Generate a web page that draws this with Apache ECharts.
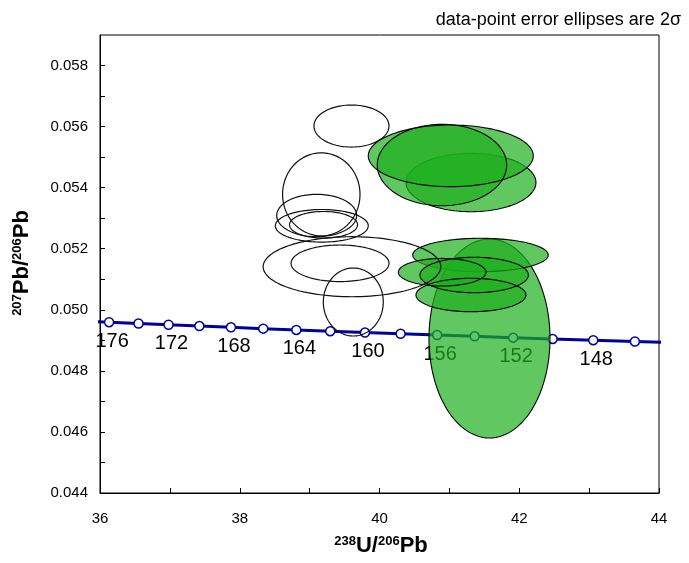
<!DOCTYPE html>
<html>
<head>
<meta charset="utf-8">
<script src="https://cdn.jsdelivr.net/npm/echarts@6/dist/echarts.min.js"></script>
<style>html,body{margin:0;padding:0;background:#fff;}#c{width:689px;height:563px;}</style>
</head>
<body>
<div id="c"></div>
<script>
// Concordia points (age in Ma, 238U/206Pb, 207Pb/206Pb)
const concordiaAge = [178,176,174,172,170,168,166,164,162,160,158,156,154,152,150,148,146,144];
const concordiaX = [35.718,36.130,36.551,36.981,37.422,37.874,38.336,38.810,39.295,39.792,40.302,40.825,41.362,41.913,42.478,43.059,43.655,44.269];
const concordiaY = [0.049636,0.049594,0.049552,0.049510,0.049468,0.049426,0.049383,0.049341,0.049299,0.049255,0.049215,0.049173,0.049131,0.049088,0.049046,0.049004,0.048962,0.048920];
const labelAges = [176,172,168,164,160,156,152,148];
const markerAges = [176,174,172,170,168,166,164,162,160,158,156,154,152,150,148,146];

// Open (unfilled) error ellipses: centre x, centre y, half-width x, half-width y
const openCx = [39.599,39.167,39.101,39.174,39.199,39.606,39.435,39.625];
const openCy = [0.056019,0.053782,0.053088,0.052751,0.052784,0.051411,0.051523,0.050255];
const openRx = [0.537,0.554,0.572,0.665,0.487,1.271,0.701,0.429];
const openRy = [0.000688,0.001359,0.000694,0.000534,0.000436,0.000983,0.000599,0.001113];

// Filled error ellipses drawn first (behind)
const backCx = [41.574,41.309,41.445];
const backCy = [0.049060,0.054169,0.051795];
const backRx = [0.866,0.930,0.970];
const backRy = [0.003259,0.000956,0.000547];

// Filled error ellipses drawn in front
const frontCx = [41.020,40.894,40.897,41.355,41.309];
const frontCy = [0.055043,0.054742,0.051231,0.051140,0.050485];
const frontRx = [1.181,0.926,0.627,0.776,0.787];
const frontRy = [0.001009,0.001333,0.000452,0.000580,0.000547];

const xTicks = [36,38,40,42,44];
const yTickLabels = ['0.044','0.046','0.048','0.050','0.052','0.054','0.056','0.058'];

const FONT = '"Liberation Sans", Arial, sans-serif';
const GREEN = 'rgba(30,175,30,0.7)';

function rows(cx, cy, rx, ry) { return cx.map((v, i) => [v, cy[i], rx[i], ry[i]]); }

function ellipseRenderer(fill, stroke, lw) {
  return function (params, api) {
    const cx = api.value(0), cy = api.value(1), rx = api.value(2), ry = api.value(3);
    const pts = [];
    const N = 120;
    for (let k = 0; k < N; k++) {
      const t = 2 * Math.PI * k / N;
      pts.push(api.coord([cx + rx * Math.cos(t), cy + ry * Math.sin(t)]));
    }
    return { type: 'polygon', shape: { points: pts }, style: { fill: fill, stroke: stroke, lineWidth: lw } };
  };
}

const concordiaData = concordiaX.map((x, i) => {
  const age = concordiaAge[i];
  const item = { value: [x, concordiaY[i]] };
  if (markerAges.indexOf(age) < 0) item.symbolSize = 0;
  if (labelAges.indexOf(age) >= 0) {
    item.label = { show: true, formatter: String(age) };
  }
  return item;
});

const chart = echarts.init(document.getElementById('c'));
chart.setOption({
  backgroundColor: '#fff',
  animation: false,
  grid: { left: 100, top: 35, width: 559, height: 458, show: true, borderColor: '#000', borderWidth: 1, backgroundColor: 'transparent' },
  xAxis: {
    type: 'value', min: 36, max: 44, interval: 1,
    axisLine: { show: true, onZero: false, lineStyle: { color: '#000', width: 1 } },
    axisTick: { show: true, inside: true, length: 5, lineStyle: { color: '#000' } },
    axisLabel: { color: '#000', fontSize: 15, fontFamily: FONT, margin: 18,
      formatter: v => (xTicks.indexOf(Math.round(v)) >= 0 && Math.abs(v - Math.round(v)) < 1e-9) ? String(Math.round(v)) : '' },
    splitLine: { show: false }
  },
  yAxis: {
    type: 'value', min: 0.044, max: 0.059, interval: 0.001,
    axisLine: { show: true, onZero: false, lineStyle: { color: '#000', width: 1 } },
    axisTick: { show: true, inside: true, length: 5, lineStyle: { color: '#000' } },
    axisLabel: { color: '#000', fontSize: 15, fontFamily: FONT, margin: 12, showMaxLabel: false,
      formatter: v => { const s = v.toFixed(3); return yTickLabels.indexOf(s) >= 0 ? s : ''; } },
    splitLine: { show: false }
  },
  graphic: [
    { type: 'text', right: 8, top: 11, style: { text: 'data-point error ellipses are 2σ', font: '18px ' + FONT, fill: '#000' } },
    { type: 'text', x: 381, y: 546, style: {
        text: '{s|238}{b|U/}{s|206}{b|Pb}', align: 'center', verticalAlign: 'middle',
        rich: { s: { fontSize: 13, fontWeight: 'bold', fontFamily: FONT, verticalAlign: 'top', fill: '#000' },
                b: { fontSize: 22, fontWeight: 'bold', fontFamily: FONT, verticalAlign: 'bottom', fill: '#000' } } } },
    { type: 'text', x: 22, y: 263, rotation: Math.PI / 2, style: {
        text: '{s|207}{b|Pb/}{s|206}{b|Pb}', align: 'center', verticalAlign: 'middle',
        rich: { s: { fontSize: 13, fontWeight: 'bold', fontFamily: FONT, verticalAlign: 'top', fill: '#000' },
                b: { fontSize: 22, fontWeight: 'bold', fontFamily: FONT, verticalAlign: 'bottom', fill: '#000' } } } }
  ],
  series: [
    {
      type: 'line', z: 2, data: concordiaData, clip: true,
      symbol: 'circle', symbolSize: 9, showSymbol: true, showAllSymbol: true,
      itemStyle: { color: '#fff', borderColor: '#0000a8', borderWidth: 1.5 },
      lineStyle: { color: '#00009c', width: 3 },
      label: { show: false, position: 'inside', offset: [3, 19], color: '#000', fontSize: 20, fontFamily: FONT },
      emphasis: { disabled: true }
    },
    {
      type: 'custom', z: 3, data: rows(backCx, backCy, backRx, backRy),
      renderItem: ellipseRenderer(GREEN, '#000', 1.1), encode: { x: 0, y: 1 }, silent: true
    },
    {
      type: 'custom', z: 4, data: rows(frontCx, frontCy, frontRx, frontRy),
      renderItem: ellipseRenderer(GREEN, null, 0), encode: { x: 0, y: 1 }, silent: true
    },
    {
      type: 'custom', z: 5, data: rows(frontCx, frontCy, frontRx, frontRy),
      renderItem: ellipseRenderer('none', '#000', 1.1), encode: { x: 0, y: 1 }, silent: true
    },
    {
      type: 'custom', z: 6, data: rows(openCx, openCy, openRx, openRy),
      renderItem: ellipseRenderer('none', '#111', 1.2), encode: { x: 0, y: 1 }, silent: true
    }
  ]
});
</script>
</body>
</html>
